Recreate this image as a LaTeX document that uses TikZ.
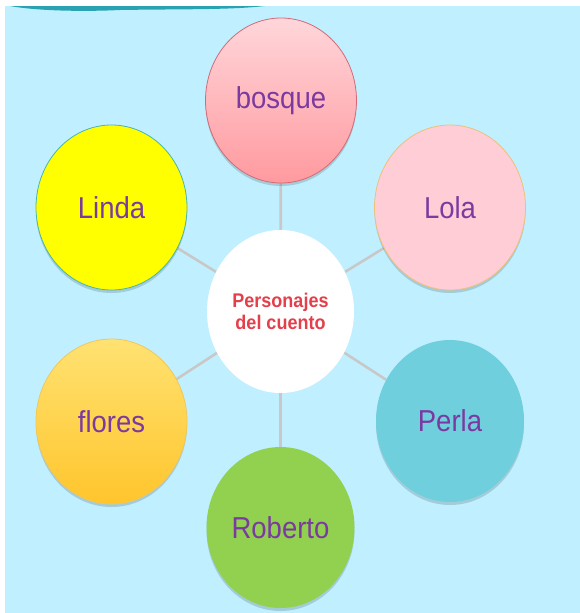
\documentclass[tikz,border=0pt]{standalone}
\usepackage{fontspec}
\setmainfont{Liberation Sans}
\usetikzlibrary{shapes.geometric,shadows,backgrounds}
\definecolor{bgblue}{HTML}{C0F0FF}
\definecolor{txtpurple}{HTML}{7A3AA0}
\definecolor{ctrred}{HTML}{E4404C}
\definecolor{linkgray}{HTML}{C8C8C8}
\definecolor{tealband}{HTML}{2AA2B2}
\definecolor{bosqtop}{HTML}{FFD6DA}
\definecolor{bosqbot}{HTML}{FF9A9F}
\definecolor{bosqline}{HTML}{D46A78}
\definecolor{lolafill}{HTML}{FFCDD6}
\definecolor{lolaline}{HTML}{EFC07A}
\definecolor{lindafill}{HTML}{FFFF00}
\definecolor{lindaline}{HTML}{4AB4B0}
\definecolor{flortop}{HTML}{FFE272}
\definecolor{florbot}{HTML}{FFC52C}
\definecolor{florline}{HTML}{F2C65A}
\definecolor{perlafill}{HTML}{70CFDD}
\definecolor{robfill}{HTML}{92D050}
\tikzset{
  bub/.style={ellipse, minimum width=151pt, minimum height=165pt, inner sep=0pt,
    text=txtpurple, font=\fontsize{27.5}{29}\selectfont,
    drop shadow={shadow xshift=0pt, shadow yshift=-3pt, opacity=0.15, fill=black}},
  link/.style={draw=linkgray, line width=2.6pt}
}
\newcommand{\tall}[1]{\scalebox{1}[1.1]{#1}}
\begin{document}
\begin{tikzpicture}[x=1pt,y=-1pt]
\useasboundingbox (0,0) rectangle (580,613);
% bubbles
\node[bub, draw=bosqline, line width=0.8pt, top color=bosqtop, bottom color=bosqbot] (bosque) at (281,100.5) {\tall{bosque}};
\node[bub, draw=lolaline, line width=0.8pt, fill=lolafill] (lola) at (450,207.5) {\tall{Lola}};
\node[bub, draw=lindaline, line width=0.8pt, fill=lindafill] (linda) at (111.5,207.5) {\tall{Linda}};
\node[bub, draw=florline, line width=0.8pt, top color=flortop, bottom color=florbot] (flores) at (111.5,421.5) {\tall{flores}};
\node[bub, minimum width=148pt, minimum height=162pt, fill=perlafill] (perla) at (450,421) {\tall{Perla}};
\node[bub, minimum width=148pt, minimum height=161pt, fill=robfill] (roberto) at (280.5,527.5) {\tall{Roberto}};
\node[ellipse, fill=white, minimum width=147pt, minimum height=163pt, inner sep=0pt,
  text=ctrred, align=center, font=\bfseries\fontsize{18}{22.5}\selectfont] (centro) at (280.5,311.5)
  {\raisebox{-3pt}{\tall{Personajes}}\\\raisebox{-3pt}{\tall{del cuento}}};
% background and connectors
\begin{scope}[on background layer]
\fill[white] (0,0) rectangle (580,613);
\fill[bgblue] (5,6) rectangle (580,613);
\fill[tealband] (10,6) .. controls (40,11.5) and (90,11.5) .. (120,10)
  .. controls (180,9) and (230,10) .. (265,6) -- cycle;
\foreach \p in {bosque,lola,linda,flores,perla,roberto} \draw[link] (centro) -- (\p);
\end{scope}
\end{tikzpicture}
\end{document}
